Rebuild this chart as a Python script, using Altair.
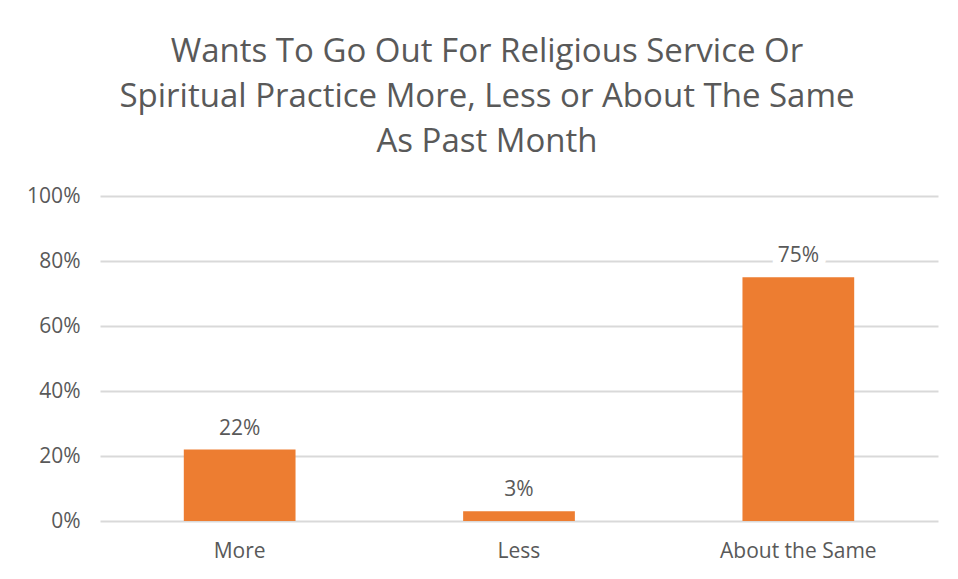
import altair as alt
import pandas as pd

categories = ["More", "Less", "About the Same"]
values = [0.22, 0.03, 0.75]
labels = ["22%", "3%", "75%"]

df = pd.DataFrame({"category": categories, "value": values, "label": labels})

FONT = "Open Sans"
TXT = "#595959"
FS = 21

base = alt.Chart(df).encode(
    x=alt.X("category:N", sort=categories, title=None,
            scale=alt.Scale(paddingInner=0.6, paddingOuter=0.3),
            axis=alt.Axis(labelAngle=0, labelFontSize=FS, labelColor=TXT, labelFont=FONT,
                          labelPadding=19, domain=False, ticks=False, grid=False)),
)

bars = base.mark_bar(color="#ED7D31").encode(
    y=alt.Y("value:Q", title=None,
            scale=alt.Scale(domain=[0, 1]),
            axis=alt.Axis(format="%", values=[0, 0.2, 0.4, 0.6, 0.8, 1.0],
                          labelFontSize=FS, labelColor=TXT, labelFont=FONT,
                          labelPadding=20, domain=False, ticks=False,
                          gridColor="#D9D9D9", gridWidth=2))
)

halo = base.mark_text(baseline="bottom", dy=-11, fontSize=FS, font=FONT,
                      color="white", stroke="white", strokeWidth=16,
                      strokeJoin="round").encode(
    y="value:Q", text="label:N")

text = base.mark_text(baseline="bottom", dy=-11, fontSize=FS, font=FONT,
                      color=TXT).encode(
    y="value:Q", text="label:N")

chart = alt.layer(bars, halo, text).properties(
    width=838, height=325,
    padding={"left": 92, "top": 188, "right": 12, "bottom": 50},
    autosize=alt.AutoSizeParams(type="none"),
    background="white",
    title=alt.TitleParams(
        ["Wants To Go Out For Religious Service Or",
         "Spiritual Practice More, Less or About The Same",
         "As Past Month"],
        fontSize=33, font=FONT, color=TXT, fontWeight="normal",
        lineHeight=45, anchor="middle", dx=-32, offset=26),
).configure_view(stroke=None, strokeWidth=0)

chart.save("out.html", embed_options={"renderer": "svg", "actions": False})
